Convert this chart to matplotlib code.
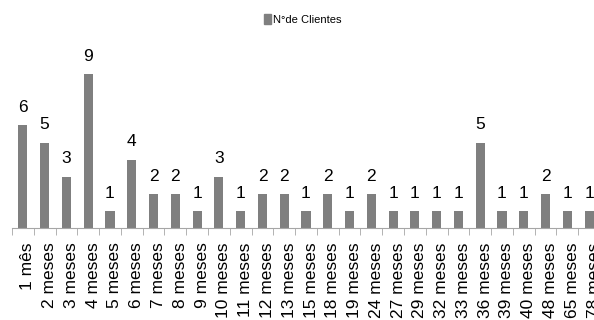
import matplotlib
matplotlib.use("Agg")
import matplotlib.pyplot as plt
from matplotlib.patches import Patch
from matplotlib.transforms import ScaledTranslation
import numpy as np

categories = ["1 mês", "2 meses", "3 meses", "4 meses", "5 meses", "6 meses", "7 meses",
              "8 meses", "9 meses", "10 meses", "11 meses", "12 meses", "13 meses",
              "15 meses", "18 meses", "19 meses", "24 meses", "27 meses", "29 meses",
              "32 meses", "33 meses", "36 meses", "39 meses", "40 meses", "48 meses",
              "65 meses", "78 meses"]
values = [6, 5, 3, 9, 1, 4, 2, 2, 1, 3, 1, 2, 2, 1, 2, 1, 2, 1, 1, 1, 1, 5, 1, 1, 2, 1, 1]
series_name = "N°de Clientes"

plt.rcParams['font.family'] = ['Liberation Sans', 'DejaVu Sans']

fig = plt.figure(figsize=(5.94, 3.2), dpi=100)
ax = fig.add_axes([12/594, 1 - 228/320, 588/594, 171/320])

x = np.arange(len(categories))
color = "#7f7f7f"
ax.bar(x, values, width=0.42, color=color)
for xi, v in zip(x, values):
    ax.text(xi, v + 0.6, str(v), ha="center", va="bottom", fontsize=12.5, color="black")

ax.set_xlim(-0.5, len(categories) - 0.5)
ax.set_ylim(0, 10)
for s in ["top", "right", "left"]:
    ax.spines[s].set_visible(False)
ax.spines["bottom"].set_color("#a6a6a6")
ax.set_yticks([])
ax.set_xticks(x)
ax.set_xticklabels(categories, rotation=90, fontsize=12.5)
ax.tick_params(axis="x", which="major", length=0, pad=10.5)
ax.set_xticks(np.arange(-0.5, len(categories), 1), minor=True)
ax.tick_params(axis="x", which="minor", length=5, color="#a6a6a6", direction="out")
offset = ScaledTranslation(5/100, 0, fig.dpi_scale_trans)
for lbl in ax.get_xticklabels():
    lbl.set_transform(lbl.get_transform() + offset)

fig.legend(handles=[Patch(color=color)], labels=[series_name], loc="center",
           bbox_to_anchor=(0.51, 0.94), frameon=False, fontsize=8,
           handlelength=0.6, handleheight=1.1, handletextpad=0.2)

fig.savefig("out.png", dpi=100)
